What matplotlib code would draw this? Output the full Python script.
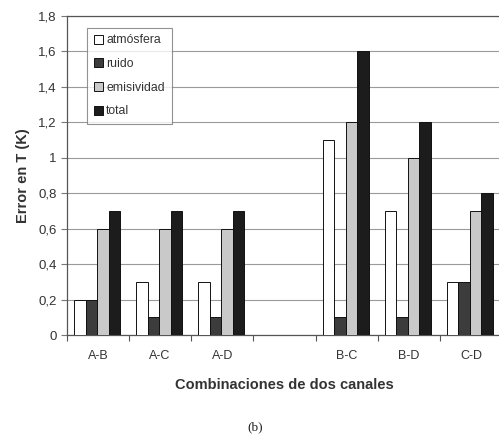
import numpy as np
import matplotlib.pyplot as plt
from matplotlib.ticker import FuncFormatter

plt.rcParams['font.family'] = ['Liberation Sans', 'DejaVu Sans']

# channel pairs and their slot on the x axis (slot 3 left empty)
combos = ['A-B', 'A-C', 'A-D', 'B-C', 'B-D', 'C-D']
slots = [0, 1, 2, 4, 5, 6]

# error contributions in K
atmosfera = [0.2, 0.3, 0.3, 1.1, 0.7, 0.3]
ruido = [0.2, 0.1, 0.1, 0.1, 0.1, 0.3]
emisividad = [0.6, 0.6, 0.6, 1.2, 1.0, 0.7]
total = [0.7, 0.7, 0.7, 1.6, 1.2, 0.8]

series = [('atmósfera', atmosfera, 'white'),
          ('ruido', ruido, '#3c3c3c'),
          ('emisividad', emisividad, '#c9c9c9'),
          ('total', total, '#1c1c1c')]

fig = plt.figure(figsize=(4.99, 4.41), dpi=100)
ax = fig.add_axes([0.134, 0.240, 0.872, 0.724])

w = 0.185
x = np.array(slots)
for i, (name, vals, col) in enumerate(series):
    ax.bar(x + (i - 1.5) * w - 0.015, vals, w, color=col, edgecolor='#111111',
           linewidth=0.7, label=name, zorder=3)

ax.set_ylim(0, 1.8)
ax.set_xlim(-0.5, 6.5)
ax.set_yticks(np.arange(0, 1.81, 0.2))
ax.yaxis.set_major_formatter(FuncFormatter(
    lambda v, p: '0' if abs(v) < 1e-9 else ('%g' % round(v, 1)).replace('.', ',')))
ax.grid(axis='y', color='#9a9a9a', linewidth=0.8, zorder=0)

# category boundaries as major ticks, labels centred on minor ticks
ax.set_xticks(np.arange(-0.5, 7, 1))
ax.set_xticklabels([])
ax.set_xticks(slots, minor=True)
ax.set_xticklabels(combos, minor=True)
ax.tick_params(axis='x', which='minor', length=0, pad=11, labelsize=9, colors='#333333')
ax.tick_params(axis='x', which='major', length=4, color='#555555')
ax.tick_params(axis='y', length=4, labelsize=9.5, colors='#333333', color='#777777')

for s in ['left', 'bottom', 'top']:
    ax.spines[s].set_color('#555555')
    ax.spines[s].set_linewidth(0.9)
ax.spines['right'].set_visible(False)

ax.set_ylabel('Error en T (K)', fontsize=10.5, fontweight='bold', color='#333333', labelpad=6)
ax.set_xlabel('Combinaciones de dos canales', fontsize=10.5, fontweight='bold',
              color='#333333', labelpad=11)

leg = ax.legend(loc='upper left', bbox_to_anchor=(0.033, 0.982), fontsize=8.8,
                frameon=True, fancybox=False, edgecolor='#777777',
                handlelength=0.75, handleheight=0.75, handletextpad=0.25,
                labelspacing=0.95, borderpad=0.55, labelcolor='#333333')
leg.get_frame().set_linewidth(0.8)

fig.text(0.512, 0.032, '(b)', family='Liberation Serif', fontsize=9.5,
         ha='center', va='center', color='#222222')

fig.savefig('out.png', dpi=100)
